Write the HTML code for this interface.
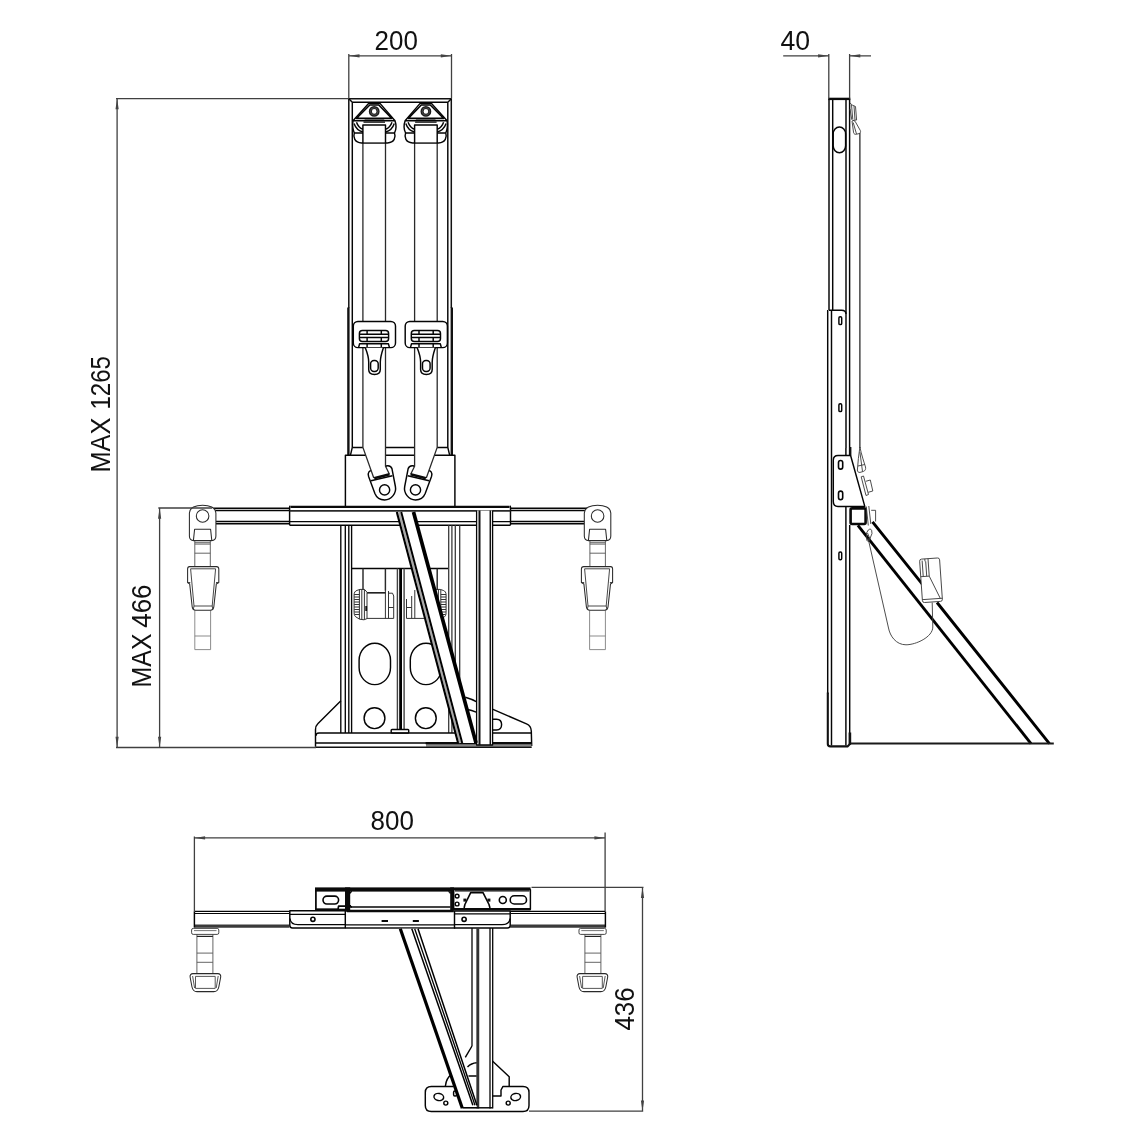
<!DOCTYPE html>
<html><head><meta charset="utf-8"><title>Drawing</title>
<style>
html,body{margin:0;padding:0;background:#fff;}
svg{display:block;will-change:transform;}
.k{stroke:#050505;stroke-width:1.45;fill:none;stroke-linecap:butt;stroke-linejoin:round}
.kw{stroke:#050505;stroke-width:1.45;fill:#fff;stroke-linejoin:round}
.t{stroke:#0a0a0a;stroke-width:2.2;fill:none;stroke-linejoin:round}
.tw{stroke:#0a0a0a;stroke-width:2.2;fill:#fff;stroke-linejoin:round}
.m{stroke:#111;stroke-width:1.7;fill:none;stroke-linejoin:round}
.g{stroke:#3a3a3a;stroke-width:0.9;fill:none;stroke-linejoin:round}
.gw{stroke:#3a3a3a;stroke-width:0.9;fill:#fff;stroke-linejoin:round}
.r{stroke:#333;stroke-width:1;fill:none;stroke-linejoin:round}
.d{stroke:#404040;stroke-width:1.3;fill:none}
.a{fill:#444;stroke:none}
text{font-family:"Liberation Sans",sans-serif;font-size:27px;fill:#111;}
</style></head>
<body>
<svg width="1139" height="1139" viewBox="0 0 1139 1139">
<rect width="1139" height="1139" fill="#fff"/>
<defs>
<!-- top D-ring anchor, drawn for left belt (centre x=374.2) -->
<g id="dring">
  <path class="kw" d="M353,120.7 C352.3,125 353,130 354.3,133 C353,137 354.5,142.9 361.5,142.9 L387.5,142.9 C394.5,142.9 396,137 394.5,133 C396,130 396.5,125 395,120.7 L380,103.4 L368.6,103.4 Z"/>
  <path class="k" d="M356.4,118.4 L369.8,105 L378.8,105 L391.8,118.4 Z" style="stroke-width:1.6"/>
  <path class="k" d="M353,120.7 L395,120.7"/>
  <circle class="kw" cx="374.2" cy="111.4" r="3.85" style="stroke-width:3.1;stroke:#1a1a1a"/>
  <circle cx="374.2" cy="111.4" r="3.7" fill="none" stroke="#777" stroke-width="0.5"/>
  <path class="k" d="M354.3,133 L363,133 M385.5,133 L394.5,133"/>
  <path class="k" d="M354,123.5 Q356.5,130.5 363,132 M394.3,123.5 Q392,130.5 385.5,132"/>
  <path class="k" d="M356.5,122.3 Q358.5,128 363,129.3 M392,122.3 Q390,128 385.5,129.3"/>
  <path class="k" d="M364.6,120.2 L384.2,120.2 M363.5,122.1 L385,122.1"/>
  <rect class="kw" x="363" y="124.6" width="22.5" height="17.6" style="stroke:none"/>
  <path class="k" d="M362.9,143 L362.9,125 L385.5,125 L385.5,143"/>
</g>
<!-- latch plate + tongue on left belt -->
<g id="latch">
  <rect class="kw" x="353.3" y="321.4" width="42.2" height="26.2" rx="4.6"/>
  <rect class="k" x="359.4" y="330.4" width="29.2" height="11" rx="3"/>
  <path class="k" d="M359.6,334.3 L388.4,334.3 M359.6,337.5 L388.4,337.5 M367.1,330.6 L367.1,334.3 M381.3,330.6 L381.3,334.3 M367.1,337.5 L367.1,341.2 M381.3,337.5 L381.3,341.2"/>
  <path class="k" d="M358.6,347.4 L359.6,343.8 L388.4,343.8 L389.4,347.4 M367.1,343.8 L367.1,347.4 M381.3,343.8 L381.3,347.4"/>
  <path class="kw" d="M365.3,347.7 C367,352 368.7,357 368.7,362 L368.7,369.5 C368.7,373 371,374.5 374.5,374.5 C378,374.5 380.3,373 380.3,369.5 L380.3,362 C380.3,357 382,352 383.4,347.7"/>
  <rect class="k" x="370.6" y="360.4" width="7.6" height="11" rx="3.4"/>
</g>
<!-- lower anchor plate (left) -->
<g id="lanchor">
  <path class="kw" d="M383,469 C384.5,465 390.6,464.2 392,468.8 L395.4,486.5 C396.7,493 391.5,499.9 384.6,499.9 C379.5,499.9 376.3,497 374.9,493.5 L368.6,476.5 C367.3,472.6 369.5,470 372.5,470.5"/>
  <circle class="k" cx="384.6" cy="489.9" r="5.1"/>
</g>
<g id="lbelt">
  <path d="M362.9,142 L362.9,447.4 L373.8,477.8 L389.6,473.8 L385.5,466.2 L385.5,142 Z" fill="#fff" stroke="none"/>
  <path class="k" d="M362.9,142 L362.9,447.4 L373.8,478 M385.5,142 L385.5,466.2 L389.3,474" style="stroke:#2a2a2a;stroke-width:1.3"/>
  <path class="k" d="M371,480.8 L392.4,475.8"/>
  <path class="t" d="M374.2,478.3 L389.6,474.2" style="stroke-width:2.6"/>
</g>
<!-- side strap hook (front view, left) -->
<g id="hookF">
  <path class="g" d="M194.8,540.6 L194.8,566.6 M210.3,540.6 L210.3,566.6 M194.8,542.7 L210.3,542.7 M194.8,544.1 L210.3,544.1 M194.8,553.2 L210.3,553.2" style="stroke:#555"/>
  <path class="g" d="M194.8,610.2 L194.8,649.6 L210.6,649.6 L210.6,610.2 M194.8,636 L210.6,636" style="stroke:#777;stroke-width:0.85"/>
  <path class="gw" d="M189.4,513 C189.4,507.5 196,505.2 202.6,505.2 C209.2,505.2 215.9,507.5 215.9,513 L215.9,536 C215.9,539 214,540.6 211.5,540.6 L193.8,540.6 C191.3,540.6 189.4,539 189.4,536 Z" style="stroke:#2a2a2a;stroke-width:1.05"/>
  <circle class="g" cx="202.6" cy="516" r="6.3" style="stroke:#2a2a2a;stroke-width:1.05"/>
  <path class="g" d="M193.4,540.6 L194.6,529.3 L210.6,529.3 L211.8,540.6" style="stroke:#2a2a2a;stroke-width:1.05"/>
  <path class="gw" d="M189.5,566.6 L216.5,566.6 C218,566.6 218.8,567.5 218.8,569 L218.8,582.5 L216.3,584 L213.8,607 C213.5,609 212.5,610.2 210.5,610.2 L195.5,610.2 C193.5,610.2 192.5,609 192.2,607 L189.7,584 L187.6,582.5 L187.6,569 C187.6,567.5 188.2,566.6 189.5,566.6 Z" style="stroke:#2a2a2a;stroke-width:1.05"/>
  <path class="g" d="M190.6,568.8 L215.6,568.8 L212.2,606 L194,606 Z M187.6,582.5 L190.3,582.5 M216,582.5 L218.8,582.5 M194,606 L193.3,609.5 M212.2,606 L212.8,609.5" style="stroke:#333"/>
</g>
</defs>

<!-- ================= FRONT VIEW ================= -->
<g id="front">
<!-- column upper -->
<path class="m" d="M348.8,308 L348.8,98.8 L451.3,98.8 L451.3,308" style="stroke-width:1.5"/>
<path class="k" d="M352.3,447.4 L352.3,102.2 L447.8,102.2 L447.8,447.4 M348.8,98.8 L352.3,102.2 M451.3,98.8 L447.8,102.2"/>
<path class="m" d="M348.4,307.5 L348.4,455 M451.8,307.5 L451.8,455" style="stroke-width:2.4"/>
<!-- belts -->
<!-- column bottom / box -->
<path class="k" d="M352.3,447.4 L447.8,447.4 M352.3,447.4 L350.4,455.3 M447.8,447.4 L449.7,455.3"/>
<path class="k" d="M345.4,506.5 L345.4,455.3 L454.9,455.3 L454.9,506.5"/>

<use href="#lanchor"/>
<use href="#lanchor" transform="translate(800.1,0) scale(-1,1)"/>
<use href="#lbelt"/>
<use href="#lbelt" transform="translate(800.1,0) scale(-1,1)"/>
<use href="#dring"/>
<use href="#dring" transform="translate(800.1,0) scale(-1,1)"/>
<use href="#latch"/>
<use href="#latch" transform="translate(51.9,0)"/>
<!-- horizontal bar + sleeve -->
<path class="k" d="M213.5,508.3 L289.3,508.3 M214.5,510.5 L289.3,510.5 M215.9,521.5 L289.3,521.5 M215.9,523.7 L289.3,523.7 M510.7,508.3 L587,508.3 M510.7,510.5 L586,510.5 M510.7,521.5 L584.5,521.5 M510.7,523.7 L584.5,523.7" style="stroke-width:1.45"/>
<path class="t" d="M290.5,506.9 L509.5,506.9" style="stroke-width:2.3"/>
<path class="k" d="M509.8,506 C510.3,506.2 510.5,506.6 510.5,507.2 L510.5,524.6 C510.5,525.1 510.2,525.3 509.6,525.3 L290.4,525.3 C289.9,525.3 289.6,525.1 289.6,524.6 L289.6,507.2 C289.6,506.6 289.8,506.2 290.3,506"/>
<path class="k" d="M289.6,510.9 L510.5,510.9" style="stroke:#2a2a2a;stroke-width:1.6"/>
<path class="k" d="M289.6,521.6 L510.5,521.6" style="stroke-width:1.3"/>
<use href="#hookF"/>
<use href="#hookF" transform="translate(800.2,0) scale(-1,1)"/>
<!-- base frame verticals -->
<path class="k" d="M340.8,525.2 L340.8,733 M345.3,525.2 L345.3,733 M348.8,525.2 L348.8,733 M351.6,525.2 L351.6,733" style="stroke-width:1.35"/>
<path class="k" d="M448.7,525.2 L448.7,733 M451.9,525.2 L451.9,733 M455.3,525.2 L455.3,700 M459.7,525.2 L459.7,705" style="stroke:#3a3a3a;stroke-width:1.3"/>
<path class="k" d="M351.6,568.5 L413,568.5 M428,568.5 L448,568.5"/>
<!-- belts inside base -->
<path class="k" d="M363,568.5 L363,590 M385.4,568.5 L385.4,590.5 M437.2,568.5 L437.2,590 M414.8,568.5 L414.8,573" style="stroke:#2a2a2a"/>
<!-- retractors -->
<g id="retr">
 <path class="r" d="M367,592.6 L385.4,592.6 M367,618.4 L393.7,618.4 L393.7,596 L392.5,593.2 L388.5,593.2 M385.4,590 L385.4,618.4 M388.5,591 L388.5,618.4 M388.5,607.5 L393.7,607.5" />
 <path class="r" d="M367,592.8 L385.4,592.8" style="stroke-width:1.6;stroke:#222"/>
 <path class="r" fill="#e4e4e4" d="M357,590.4 C355,591 354.1,592.6 354.1,595 L354.1,612.5 C354.1,615.2 355,616.8 357,617.6 L359.5,619.2 L364,619.8 L367,618.6 L367,592.2 L364.5,589.4 L360,589.4 Z"/>
 <path class="r" d="M359.4,589.8 L359.4,619 M361.8,589.5 L361.8,619.5 M364.4,589.6 L364.4,619.6 M354.2,594.5 L359.4,594.5 M354.2,597 L359.4,597 M354.2,599.5 L359.4,599.5 M354.2,602 L359.4,602 M354.2,604.5 L359.4,604.5 M354.2,607 L359.4,607 M354.2,609.5 L359.4,609.5 M354.2,612 L359.4,612 M354.6,614.5 L359.4,614.5"/>
 <path class="r" d="M366.2,606 L366.2,611" style="stroke-width:1.8;stroke:#111"/>
</g>
<g transform="translate(800.2,0) scale(-1,1)">
 <path class="r" d="M367,592.8 L380,592.8 M393.7,599 L393.7,618.4 L376,618.4 M385.4,590 L385.4,618.4 M388.5,596 L388.5,618.4 M388.5,607.5 L393.7,607.5"/>
 <path class="r" fill="#e4e4e4" d="M357,590.4 C355,591 354.1,592.6 354.1,595 L354.1,612.5 C354.1,615.2 355,616.8 357,617.6 L359.5,619.2 L364,619.8 L367,618.6 L367,592.2 L364.5,589.4 L360,589.4 Z"/>
 <path class="r" d="M359.4,589.8 L359.4,619 M361.8,589.5 L361.8,619.5 M364.4,589.6 L364.4,619.6 M354.2,594.5 L359.4,594.5 M354.2,597 L359.4,597 M354.2,599.5 L359.4,599.5 M354.2,602 L359.4,602 M354.2,604.5 L359.4,604.5 M354.2,607 L359.4,607 M354.2,609.5 L359.4,609.5 M354.2,612 L359.4,612 M354.6,614.5 L359.4,614.5"/>
 <path class="r" d="M366.2,606 L366.2,611" style="stroke-width:1.8;stroke:#111"/>
</g>
<!-- centre post -->
<path class="k" d="M397.4,568.5 L397.4,729.5 M404.1,568.5 L404.1,729.5" style="stroke-width:1.4;stroke:#444"/>
<path class="t" d="M400.6,568.5 L400.6,729.5" style="stroke-width:2.8;stroke:#000"/>
<rect class="kw" x="391.2" y="729.5" width="17.5" height="3.6" rx="0.8"/>
<!-- holes -->
<rect class="k" x="359.1" y="643.3" width="31.4" height="41.3" rx="15.7" ry="17"/>
<rect class="k" x="410.3" y="643.3" width="31.4" height="41.3" rx="15.7" ry="17"/>
<circle class="k" cx="374.5" cy="718.2" r="10.4"/>
<circle class="k" cx="425.8" cy="718.2" r="10.4"/>
<!-- base plate -->
<path class="k" d="M340.9,700.8 L317.8,723.8 C316,725.5 315.5,727 315.5,729.5 L315.5,746.8"/>
<path class="k" d="M492.4,709.2 L526.5,723.8 C530,725.3 531.2,728 531.3,731 L531.7,746"/>
<path class="k" d="M315.8,736 C315.8,734 317,733 319,733 L459,733 M493,733 L531.3,733"/>
<path class="k" d="M315.5,742.9 L426,742.9"/>
<path d="M426,745.2 L531.4,745.2" stroke="#888" stroke-width="3" fill="none"/>
<path class="m" d="M315.5,747.3 L531.7,747.3" style="stroke-width:1.4"/>
<path class="t" d="M425.6,743.2 L531.5,743.2" style="stroke-width:2.2"/>
<path class="k" d="M493,719.2 L496.5,719.2 C500,719.2 501.6,721.5 501.6,724.6 C501.6,727.7 500,730 496.5,730 L493,730"/>
<path class="k" d="M465.3,697.2 C470,698.5 473.5,700 476.2,701.6 M466.6,709.2 C470.5,710 473.5,711 476.2,712.2"/>
<!-- vertical post -->
<path class="kw" d="M476.6,510.5 L476.6,745 L492.6,745 L492.6,510.5" style="stroke-width:1.3"/>
<path class="m" d="M479.5,510.5 L479.5,745" style="stroke-width:2"/><path class="m" d="M490.3,510.5 L490.3,745" style="stroke-width:1.5"/>
<!-- diagonal brace -->
<path class="kw" d="M396.8,511.9 L458.1,743 L476,743 L413.5,511.9 Z" style="stroke:none"/>
<path d="M399,511.9 L460.15,743" stroke="#aaa" stroke-width="2" fill="none"/>
<path class="m" d="M396.8,511.9 L458.1,743" style="stroke-width:2.1;stroke:#000"/>
<path class="m" d="M401.2,511.9 L462.2,743" style="stroke-width:2;stroke:#000"/>
<path class="t" d="M413.5,511.9 L476.05,743" style="stroke-width:3.7;stroke:#000"/>
</g>

<!-- ================= SIDE VIEW ================= -->
<g id="side">
<!-- belt line behind -->
<path class="k" d="M859.9,133 L859.9,448" style="stroke-width:1.1"/>
<!-- upper column -->
<path class="k" d="M829,98.8 L829,310 M832.7,99.5 L832.7,310 M846,99.5 L846,448 M849.6,98.8 L849.6,455"/>
<path class="t" d="M828.3,98.9 L850.3,98.9" style="stroke-width:2.4"/>
<rect class="k" x="833.2" y="126.9" width="12.4" height="25.9" rx="6.2" ry="7"/>
<!-- lower column -->
<path class="k" d="M829,310.2 L841.5,310.2 C844.5,310.2 846,311.5 846,314"/>
<path class="k" d="M827.7,310 L827.7,694 M831.5,310.4 L831.5,745.5 M845.9,448 L845.9,745.5 M849.7,525 L849.7,745"/>
<path class="m" d="M827.8,692.6 L827.8,744 C827.8,745.6 828.8,746.4 830.4,746.4 L847.5,746.4 L850.4,743.6" style="stroke-width:2.1"/>
<path class="m" d="M849.9,732.5 L849.9,744.5" style="stroke-width:2.6"/>
<rect class="k" x="838.9" y="316.8" width="2.8" height="7.8" rx="1.2"/>
<rect class="k" x="838.9" y="403.8" width="2.8" height="7.8" rx="1.2"/>
<rect class="k" x="838.9" y="552" width="2.8" height="7.8" rx="1.2"/>
<!-- bracket -->
<path class="m" d="M850.4,447 L850.4,455.5" style="stroke-width:2"/>
<path class="kw" d="M838,455.5 L850.6,455.5 L864.8,506.4 L838,506.4 C835,506.4 833.3,504.5 833.3,501.5 L833.3,460.3 C833.3,457.3 835,455.5 838,455.5 Z"/>
<rect class="k" x="838.5" y="460.5" width="4.2" height="8.6" rx="2.1" style="stroke-width:1.6"/>
<rect class="k" x="838.5" y="491.1" width="4.2" height="8.6" rx="2.1" style="stroke-width:1.6"/>
<!-- square tube -->
<rect class="tw" x="850.6" y="508.4" width="15" height="15.6" rx="1.5" style="stroke-width:2.6"/>
<!-- diagonal brace -->
<path class="t" d="M857.9,525.4 L1031,743.6" style="stroke-width:2.9;stroke:#000"/>
<path class="t" d="M872.5,521.8 L922.5,584.4 M937,602.5 L1049.4,743.6" style="stroke-width:2.9;stroke:#000"/>
<!-- floor line -->
<path class="m" d="M850.5,743.6 L1053.8,743.6" style="stroke-width:2;stroke:#1a1a1a"/>
<!-- top anchor on side (thin) -->
<path class="g" d="M850,103 L852.2,105 L855.5,106.5 L856.6,120 L853,120.5 M851.5,105 L852.8,119.5 M854,106 L855,120 M850,109 L851.8,119.8"/>
<path class="g" d="M852,121 C853.5,120 854.5,120.5 855.5,122 L860.3,130.5 C861,132 860.3,133.3 859,133.6 L856.2,134.3 C855,134.5 854,134 853.6,132.8 Z M853.2,122.5 L856.5,134"/>
<!-- belt anchor triangle + tilted rects -->
<path class="g" d="M859.9,447 C861.5,455 864,462 865.5,467 C866,469 865.2,470.8 863.5,471.4 L860,472.4 C858.4,472.7 857.3,471.6 857.4,470 C857.8,462 858.8,455 859.9,447 Z M859.9,452 L862.5,471.5 M858,466 L864.8,464.5"/>
<path class="g" d="M861.2,476.8 L863.5,476 L868.5,494.5 L866,495.5 Z M865.8,481.3 L870.3,480 L872.8,491 L868.2,492.3"/>
<path class="g" d="M866.3,506.5 L868.3,525.5 M868.8,506 L870.8,524 M871.2,510.3 L875.6,510.3 L875.6,521.5"/>
<path class="g" d="M868.3,530 C869.5,528.8 871,528.8 871.6,530.2 L872,533.5 L868.8,541.5 L866.8,540.5 L866.5,533 Z M867.5,533 L870,539"/>
<!-- belt loop -->
<path class="g" d="M868,538 L888.5,628 C890,636 896,644.8 906,644.8 C916,644.8 932.8,637 932.8,627 L932.2,602.5" style="stroke-width:0.9"/>
<!-- buckle on brace -->
<g transform="rotate(-4 931 580)">
<rect class="gw" x="921" y="558.5" width="20" height="43.5" rx="2"/>
<path class="g" d="M921,576 L929.5,576 L929.5,558.5 M923.5,560 L923.5,576 M927,561 L927,576 M929.5,576 L939,599 M921,599 L941,599 M926.3,558.5 L926.3,561"/>
</g>
</g>

<!-- ================= TOP VIEW ================= -->
<defs>
<g id="hookT">
  <path class="g" d="M196.9,933.9 L196.9,973.1 M212.9,933.9 L212.9,973.1 M196.9,953.1 L212.9,953.1 M196.9,962.3 L212.9,962.3" style="stroke:#555"/>
  <path class="g" d="M196.9,936.4 L212.9,936.4" style="stroke:#222;stroke-width:1.2"/>
  <rect class="gw" x="191.6" y="928.4" width="27.2" height="6" rx="1.6" style="stroke:#333"/>
  <path class="g" d="M194,930.6 L216.5,930.6" style="stroke:#666"/>
  <path class="gw" d="M193,973.6 L217.8,973.6 C220,973.6 221,975 220.7,977 L218.8,987 C218.2,990 216.6,991.6 213.8,991.6 L197,991.6 C194.2,991.6 192.6,990 192,987 L190.1,977 C189.8,975 190.8,973.6 193,973.6 Z" style="stroke:#2a2a2a;stroke-width:1.05"/>
  <path class="g" d="M195.5,976.4 L215.2,976.4 L215.2,988.4 L195.5,988.4 Z M192.6,976 L194.6,988 M218.2,976 L216.2,988" style="stroke:#444"/>
</g>
</defs>
<g id="top">
<!-- bar -->
<path class="k" d="M194.4,911.4 L289.4,911.4 M510.3,911.4 L605.4,911.4 M194.4,913.5 L289.4,913.5 M510.3,913.5 L605.4,913.5" style="stroke-width:1.2"/>
<path d="M194.4,926.1 L289.4,926.1 M510.3,926.1 L605.4,926.1" stroke="#3a3a3a" stroke-width="3.1" fill="none"/>
<path class="k" d="M194.4,911.5 L194.4,927.6 M605.4,911.5 L605.4,927.6"/>
<use href="#hookT"/>
<use href="#hookT" transform="translate(797.8,0) scale(-1,1)"/>
<!-- main body lines -->
<path class="k" d="M345.3,924.8 L455.2,924.8" style="stroke-width:1.3"/>
<path class="m" d="M345.3,927.9 L455.2,927.9" style="stroke-width:1.5"/>
<path class="t" d="M381.6,921.1 L388,921.1 M412.8,921.1 L418.9,921.1" style="stroke-width:2"/>
<!-- left sleeve -->
<path class="kw" d="M289.8,910.8 L345.3,910.8 L345.3,928 L292.5,928 C290.8,928 289.8,927 289.8,925.3 Z"/>
<path class="k" d="M289.8,914.3 L345.3,914.3" style="stroke-width:1.3"/>
<path class="k" d="M290,918.5 C290.3,923 293,924.6 298,924.6 L345.3,924.6" style="stroke-width:1.3"/>
<circle class="k" cx="312.9" cy="919.3" r="2.1" style="stroke-width:1.6"/>
<!-- right sleeve -->
<path class="kw" d="M454.5,911 L510.2,911 L510.2,925.3 C510.2,927 509.2,928 507.5,928 L454.5,928 Z"/>
<path class="k" d="M454.5,913.8 L510.2,913.8" style="stroke-width:1.3"/>
<path class="k" d="M510,918.5 C509.7,923 507,924.6 502,924.6 L454.5,924.6" style="stroke-width:1.3"/>
<circle class="k" cx="464.1" cy="919.3" r="2.1" style="stroke-width:1.6"/>
<!-- left top block -->
<path class="kw" d="M315.9,889 L315.9,909.3 L338,909.3 L338.6,906.2 L345.3,906.2" style="stroke-width:1.7"/>
<rect x="315" y="887.4" width="139" height="4.2" fill="#0a0a0a"/>
<rect class="k" x="323" y="896.1" width="15.6" height="7.9" rx="3.9" style="stroke-width:1.6"/>
<path class="t" d="M315.2,909.6 L345.3,909.6" style="stroke-width:1.8"/>
<!-- main rectangle -->
<rect x="345" y="887.4" width="5.2" height="24.4" fill="#0a0a0a"/>
<rect x="450.2" y="887.4" width="3.6" height="24.4" fill="#0a0a0a"/>
<path class="t" d="M347,911 L453.6,911" style="stroke-width:2.6"/>
<path class="k" d="M350,907 L450.4,907" style="stroke-width:1.7"/>
<path class="k" d="M350.2,893.5 C350.2,892.3 350.8,891.6 352,891.6 M450.2,893.5 C450.2,892.3 449.6,891.6 448.4,891.6 M350.2,905 C350.2,906.2 350.8,907 352,907"/>
<!-- right block -->
<path class="kw" d="M453.7,889.6 L530.4,889.6 L530.4,909.3 L453.7,909.3 Z"/>
<rect x="453.7" y="887.4" width="76.9" height="2.3" fill="#0a0a0a"/>
<path class="k" d="M455,890.9 L529.5,890.9" style="stroke-width:1.1"/>
<path class="t" d="M453.7,909.3 L530.6,909.3" style="stroke-width:2.6"/>
<circle class="k" cx="457.1" cy="896.1" r="1.9"/>
<circle class="k" cx="457.1" cy="904" r="1.9"/>
<path class="k" d="M464.1,908 L464.9,904.5 L470.7,892.6 L483,892.6 L489,904.5 L490,908" style="stroke-width:1.6"/>
<rect x="463.4" y="898.6" width="3" height="3" fill="#111"/>
<rect x="487.4" y="898.6" width="3" height="3" fill="#111"/>
<circle class="k" cx="502.8" cy="900" r="3.5" style="stroke-width:1.6"/>
<rect class="k" x="510.2" y="895.8" width="16.3" height="8.2" rx="4.1" style="stroke-width:1.6"/>
<!-- vertical post -->
<path class="k" d="M472,928 L472,1046" style="stroke-width:1.3"/>
<path d="M477.8,928 L477.8,1108.4" stroke="#333" stroke-width="2.9" fill="none"/>
<path class="k" d="M490,928 L490,1108.4 M492.7,928 L492.7,1108.4" style="stroke-width:1.3"/>
<!-- foot plate -->
<path class="k" d="M472,1046 L465.3,1057.3 M445.4,1086 C446,1080 448.5,1076.5 452,1074.2 M467.5,1067 C470,1064.5 473,1063 476.6,1062.8 M468.5,1076 L476.6,1076"/>
<path class="k" d="M492.4,1061 L509.2,1076.8 L509.2,1086"/>
<path class="k" d="M461,1111.4 L431.3,1111.4 C427.5,1111.4 425.3,1109.2 425.3,1105.4 L425.3,1092.4 C425.3,1088.6 427.5,1086.4 431.3,1086.4 L453.5,1086.4 M492.4,1096 L501,1096 L501,1090 L503,1086.4 L523,1086.4 C526.8,1086.4 529,1088.6 529,1092.4 L529,1105.4 C529,1109.2 526.8,1111.4 523,1111.4 L461,1111.4"/>
<ellipse class="k" cx="438.8" cy="1097" rx="4.9" ry="3.5" transform="rotate(12 438.8 1097)"/>
<ellipse class="k" cx="515.7" cy="1097" rx="4.9" ry="3.5" transform="rotate(-12 515.7 1097)"/>
<circle class="k" cx="445.8" cy="1103.1" r="2"/>
<circle class="k" cx="508.2" cy="1103.1" r="2"/>
<rect class="k" x="453.6" y="1091" width="3" height="5" rx="1.2"/>
<path class="k" d="M479,1107.8 L492.4,1107.8"/>
<!-- diagonal brace -->
<path d="M400.3,928.7 L462.2,1107.8 L477,1107.8 L417.9,928.7 Z" fill="#fff" stroke="none"/>
<path class="t" d="M400.3,928.7 L462.3,1108.2" style="stroke-width:3.2;stroke:#000"/>
<path class="k" d="M411.8,928.7 L472.9,1105.3" style="stroke-width:1.5;stroke:#000"/>
<path class="k" d="M414.7,928.7 L475,1105.3" style="stroke-width:1.3;stroke:#000"/>
<path class="k" d="M418,928.7 L476.9,1105.3" style="stroke-width:1.5;stroke:#000"/>
<path class="k" d="M462.5,1107.8 L479,1107.8" style="stroke-width:1.6"/>
</g>

<!-- ================= DIMENSIONS ================= -->
<g id="dims">
<!-- 200 -->
<path class="d" d="M348.8,54 L348.8,98.5 M451.5,54 L451.5,98.5 M348.8,55.8 L451.5,55.8"/>
<path class="a" d="M348.8,55.8 L359.5,54.2 L359.5,57.4 Z M451.5,55.8 L440.8,54.2 L440.8,57.4 Z"/>
<text x="374.6" y="49.8" textLength="43.3" lengthAdjust="spacingAndGlyphs">200</text>
<!-- 40 -->
<path class="d" d="M828.8,54 L828.8,98.5 M849.6,54 L849.6,98.5 M783.2,55.8 L828.8,55.8 M849.6,55.8 L871,55.8"/>
<path class="a" d="M828.8,55.8 L818.1,54.2 L818.1,57.4 Z M849.6,55.8 L860.3,54.2 L860.3,57.4 Z"/>
<text x="780.5" y="49.8" textLength="29.6" lengthAdjust="spacingAndGlyphs">40</text>
<!-- MAX 1265 -->
<path class="d" d="M116,98.6 L348.3,98.6 M117.1,98.6 L117.1,747.5 M116,747.5 L316,747.5"/>
<path class="a" d="M117.1,98.6 L115.5,109.3 L118.7,109.3 Z M117.1,747.5 L115.5,736.8 L118.7,736.8 Z"/>
<text transform="translate(110,472.6) rotate(-90)"><tspan textLength="55" lengthAdjust="spacingAndGlyphs">MAX</tspan> <tspan x="63" textLength="53.5" lengthAdjust="spacingAndGlyphs">1265</tspan></text>
<!-- MAX 466 -->
<path class="d" d="M158.3,508 L212,508 M159.6,508 L159.6,747.5"/>
<path class="a" d="M159.6,508 L158,518.7 L161.2,518.7 Z M159.6,747.5 L158,736.8 L161.2,736.8 Z"/>
<text transform="translate(151,687.4) rotate(-90)"><tspan textLength="54" lengthAdjust="spacingAndGlyphs">MAX</tspan> <tspan x="59.6" textLength="43.4" lengthAdjust="spacingAndGlyphs">466</tspan></text>
<!-- 800 -->
<path class="d" d="M194.4,836.5 L194.4,911.7 M605.1,832.5 L605.1,911 M194.4,837.9 L605.1,837.9"/>
<path class="a" d="M194.4,837.9 L205.1,836.3 L205.1,839.5 Z M605.1,837.9 L594.4,836.3 L594.4,839.5 Z"/>
<text x="370.6" y="829.9" textLength="43.4" lengthAdjust="spacingAndGlyphs">800</text>
<!-- 436 -->
<path class="d" d="M531.5,887.4 L643.5,887.4 M642.5,887.4 L642.5,1111.2 M529,1111.2 L643.2,1111.2"/>
<path class="a" d="M642.5,887.4 L640.9,898.1 L644.1,898.1 Z M642.5,1111.2 L640.9,1100.5 L644.1,1100.5 Z"/>
<text transform="translate(634.4,1030.6) rotate(-90)" textLength="43.4" lengthAdjust="spacingAndGlyphs">436</text>
</g>
</svg>
</body></html>
